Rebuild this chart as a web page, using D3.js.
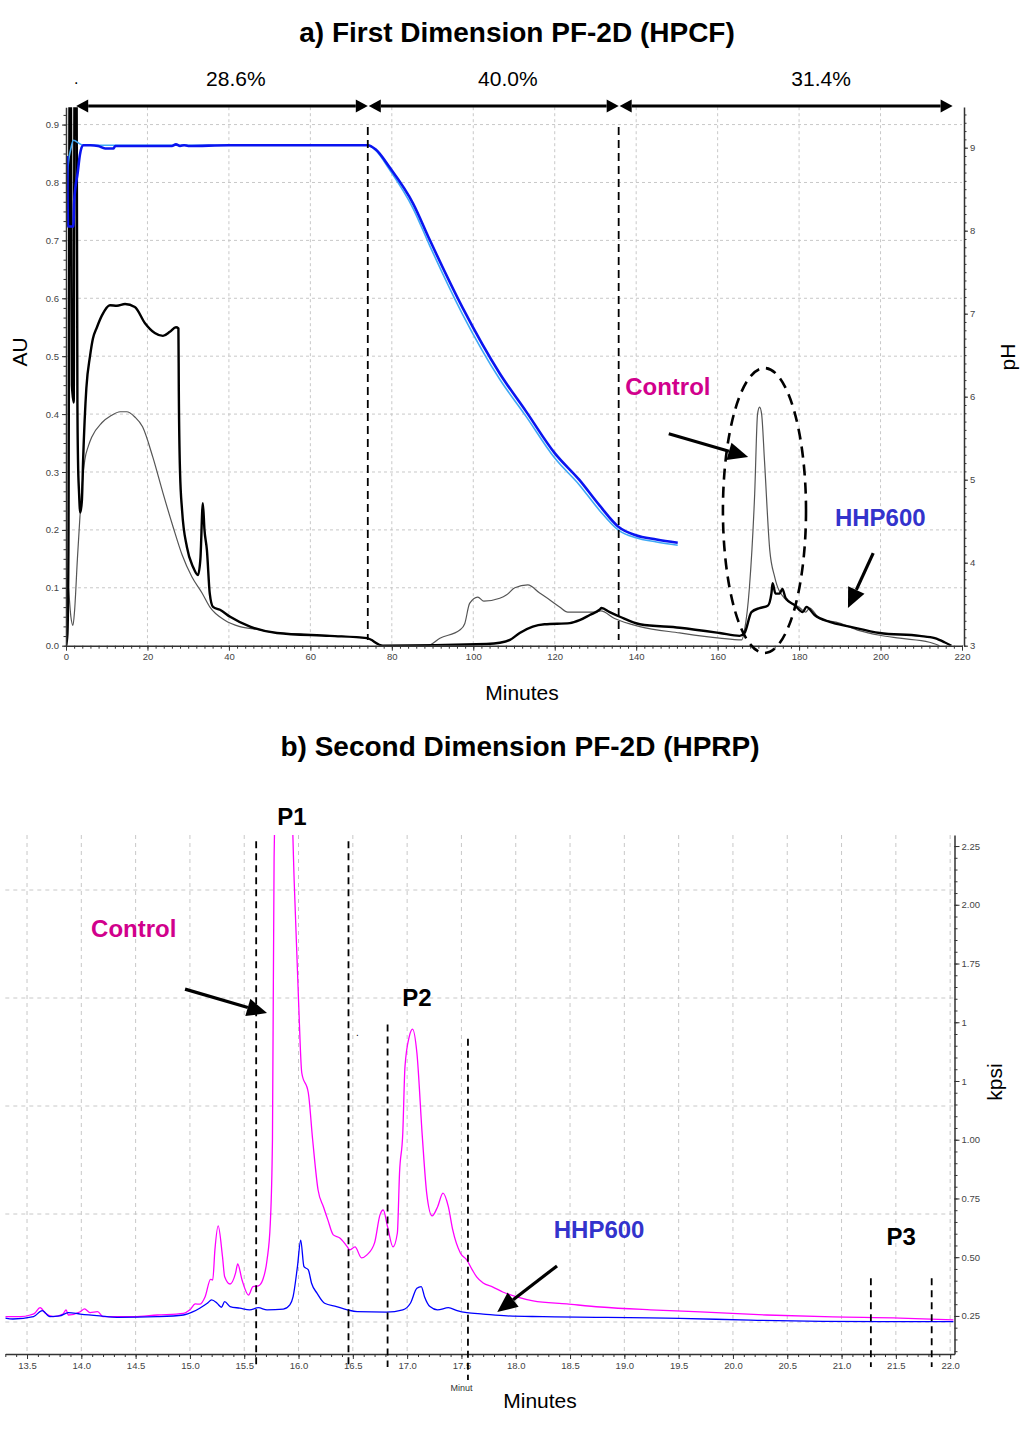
<!DOCTYPE html>
<html><head><meta charset="utf-8">
<script src="https://cdn.jsdelivr.net/npm/d3@7"></script>
<style>
body{margin:0;background:#fff}
svg{display:block}
text{font-family:"Liberation Sans",Arial,sans-serif}
</style>
</head><body>
<svg id="chart" width="1024" height="1429"></svg>
<script>
// ---------- panel a : first dimension (minutes, AU / pH)
const hhpA = [[0,0],[0.35,0.02],[0.6,0.17],[0.9,0.98],[1.2,0.98],[1.45,0.45],[1.9,0.42],[2.1,0.98],[2.6,0.98],[2.8,0.42],[2.95,0.32],[3.2,0.265],[3.5,0.23],[3.9,0.25],[4.2,0.32],[5.0,0.445],[5.9,0.5],[6.6,0.53],[7.6,0.55],[8.8,0.57],[10.8,0.588],[12.5,0.587],[14.5,0.59],[16.9,0.585],[19.4,0.557],[21.8,0.54],[23.8,0.535],[25.5,0.542],[27.0,0.55],[27.6,0.548],[27.7,0.44],[28.0,0.30],[28.5,0.234],[29.7,0.17],[31.2,0.136],[32.4,0.122],[33.0,0.15],[33.6,0.246],[34.0,0.2],[34.6,0.165],[35.3,0.09],[36.1,0.067],[37.8,0.062],[40.3,0.05],[45.2,0.033],[51.8,0.022],[64.8,0.017],[73.9,0.013],[77.8,0.0],[103.3,0.003],[106.5,0.005],[109,0.01],[111.4,0.022],[114.6,0.033],[117.5,0.037],[123.7,0.039],[126.1,0.044],[128.6,0.053],[131,0.062],[131.5,0.065],[133.5,0.058],[136,0.05],[140.9,0.037],[150.7,0.031],[160.5,0.022],[165.4,0.017],[166.6,0.022],[168.3,0.058],[170.3,0.065],[172.3,0.069],[173.2,0.09],[173.5,0.108],[174.2,0.09],[175.2,0.09],[175.9,0.098],[176.7,0.082],[178.9,0.07],[180.9,0.058],[181.8,0.067],[183.8,0.053],[187.5,0.041],[192.4,0.033],[199.8,0.022],[209.6,0.017],[213.3,0.013],[215.7,0.006],[217.4,0]];
const controlA = [[0,0.13],[0.6,0.1],[1.2,0.05],[1.7,0.035],[2.1,0.06],[2.8,0.15],[3.4,0.22],[4.0,0.28],[4.6,0.32],[5.5,0.345],[6.3,0.36],[8.8,0.385],[11,0.397],[13.3,0.404],[14.9,0.404],[16.9,0.395],[18.8,0.378],[21.3,0.326],[23.8,0.264],[26.3,0.205],[28.5,0.157],[30.9,0.119],[33.4,0.091],[35.3,0.067],[39,0.044],[42.7,0.033],[47,0.028],[51.8,0.022],[64.8,0.017],[73.9,0.013],[77.8,0.0],[88.8,0.0],[91.8,0.013],[96.7,0.027],[97.9,0.038],[99.1,0.073],[101.1,0.084],[102.6,0.077],[106.5,0.082],[108.2,0.088],[110.2,0.1],[113.4,0.105],[116.3,0.091],[118.8,0.079],[121.2,0.067],[123.2,0.058],[130,0.058],[131.3,0.06],[134.7,0.047],[140.9,0.033],[150.7,0.022],[160.5,0.013],[165.9,0.01],[166.6,0.027],[167.8,0.1],[169.1,0.263],[169.8,0.40],[170.3,0.412],[170.8,0.40],[171.5,0.32],[172.8,0.165],[174,0.119],[176.4,0.082],[180.1,0.066],[181.6,0.058],[182.6,0.065],[185,0.047],[189.9,0.039],[194.8,0.026],[199.8,0.018],[204.7,0.013],[212,0.006],[214.5,0.0]];
const phDark = [[0.3,8.9],[0.5,8.05],[1.8,8.05],[2.0,8.35],[2.9,8.71],[3.4,8.91],[4.2,9.03],[6,9.03],[7.9,9.02],[9.6,8.99],[11.6,8.99],[12.1,9.02],[20,9.02],[26,9.02],[27,9.04],[28,9.02],[29,9.03],[30,9.02],[40,9.03],[55,9.03],[74.1,9.03],[76,8.98],[79.5,8.76],[85.2,8.33],[89.3,7.89],[97.4,7.07],[106.5,6.28],[113,5.82],[120,5.32],[126,5.0],[131,4.69],[135.7,4.43],[139.9,4.33],[145,4.28],[150.2,4.24]];
const phLight = [[0.2,8.3],[0.5,8.77],[1.2,8.99],[1.8,9.09],[3.6,9.04],[4.2,9.03],[74.1,9.03],[76,8.97],[79.5,8.73],[85.2,8.27],[89.3,7.82],[97.4,6.99],[106.5,6.21],[113,5.76],[120,5.26],[126,4.94],[131,4.63],[135.7,4.39],[139.9,4.3],[145,4.25],[150.2,4.21]];
const fractionBounds = [2.5, 74.1, 135.7, 217.7];
const fractionLabels = ["28.6%", "40.0%", "31.4%"];
const fractionLabelAt = [41.7, 108.5, 185.4];
const cutLinesA = [74.1, 135.7];
const minTicksA = [0, 20, 40, 60, 80, 100, 120, 140, 160, 180, 200, 220];
const auTicks = [0, 0.1, 0.2, 0.3, 0.4, 0.5, 0.6, 0.7, 0.8, 0.9];
const phTicks = [3, 4, 5, 6, 7, 8, 9];

// ---------- panel b : second dimension (minutes, kpsi)
const controlB = [[13.30,0.247],[13.44,0.247],[13.53,0.254],[13.57,0.261],[13.62,0.285],[13.67,0.261],[13.74,0.247],[13.83,0.258],[13.86,0.276],[13.88,0.254],[13.99,0.268],[14.03,0.28],[14.08,0.264],[14.15,0.268],[14.2,0.247],[14.48,0.247],[14.70,0.254],[14.94,0.261],[15.0,0.276],[15.05,0.301],[15.09,0.3],[15.14,0.332],[15.19,0.406],[15.21,0.403],[15.23,0.531],[15.26,0.633],[15.30,0.502],[15.32,0.417],[15.37,0.386],[15.42,0.432],[15.44,0.471],[15.48,0.403],[15.54,0.339],[15.58,0.375],[15.63,0.378],[15.67,0.403],[15.71,0.488],[15.74,0.644],[15.76,1.0],[15.775,2.2],[15.8,2.6],[15.87,2.8],[15.93,2.55],[15.96,2.1],[16.0,1.594],[16.03,1.284],[16.09,1.2],[16.13,1.0],[16.18,0.786],[16.23,0.714],[16.27,0.659],[16.32,0.595],[16.38,0.582],[16.45,0.544],[16.47,0.531],[16.52,0.544],[16.58,0.497],[16.63,0.51],[16.70,0.561],[16.75,0.68],[16.78,0.701],[16.82,0.629],[16.87,0.544],[16.91,0.603],[16.93,0.859],[16.96,1.029],[16.98,1.31],[17.02,1.44],[17.05,1.471],[17.09,1.369],[17.14,1.012],[17.18,0.773],[17.23,0.676],[17.28,0.714],[17.33,0.773],[17.38,0.714],[17.42,0.616],[17.49,0.518],[17.55,0.488],[17.60,0.446],[17.64,0.416],[17.70,0.39],[17.79,0.373],[17.88,0.352],[18.01,0.331],[18.16,0.314],[18.47,0.301],[18.78,0.288],[19.24,0.276],[19.70,0.267],[20.31,0.254],[20.92,0.246],[21.54,0.241],[22.03,0.233]];
const hhpB = [[13.30,0.241],[13.37,0.237],[13.56,0.247],[13.64,0.273],[13.71,0.247],[13.80,0.25],[13.88,0.264],[13.99,0.258],[14.17,0.25],[14.33,0.244],[14.70,0.247],[14.94,0.254],[15.03,0.268],[15.09,0.283],[15.16,0.304],[15.20,0.318],[15.25,0.304],[15.29,0.287],[15.32,0.311],[15.37,0.29],[15.46,0.283],[15.55,0.276],[15.63,0.285],[15.71,0.276],[15.86,0.279],[15.92,0.297],[15.95,0.332],[15.99,0.46],[16.02,0.573],[16.05,0.46],[16.09,0.446],[16.12,0.389],[16.17,0.347],[16.24,0.304],[16.35,0.29],[16.45,0.276],[16.54,0.268],[16.81,0.266],[16.96,0.276],[17.03,0.304],[17.09,0.368],[17.13,0.375],[17.16,0.332],[17.21,0.29],[17.28,0.276],[17.38,0.285],[17.46,0.273],[17.55,0.264],[17.70,0.258],[17.92,0.25],[18.25,0.247],[19.51,0.24],[20.16,0.232],[21.38,0.226],[22.03,0.226]];
const cutLinesB = [[15.61,2.27],[16.46,2.27],[16.82,1.49],[17.56,1.43],[21.27,0.41],[21.83,0.41]];
const minTicksB = [13.5,14.0,14.5,15.0,15.5,16.0,16.5,17.0,17.5,18.0,18.5,19.0,19.5,20.0,20.5,21.0,21.5,22.0];
const kpsiTicks = [0.25,0.5,0.75,1.0,1.25,1.5,1.75,2.0,2.25];
const kpsiLabels = ["0.25","0.50","0.75","1.00","1","1","1.75","2.00","2.25"];
const gridLevelsB = [0, 1, 2, 3, 4];

const svg = d3.select("#chart");
const tickFont = "'Liberation Sans Narrow','Liberation Sans',Arial,sans-serif";
const magenta = "#d1008c", blueTxt = "#3333cc";

function styleAxis(g){
  g.select(".domain").attr("stroke","#333").attr("stroke-width",1.5);
  g.selectAll(".tick line").attr("stroke","#333");
  g.selectAll(".tick text").attr("fill","#444").style("font-size","9.5px").style("font-family",tickFont);
}
function minor(g){ g.select(".domain").remove(); g.selectAll(".tick line").attr("stroke","#333"); }

function arrow(g,x1,y1,x2,y2,len,half,w,both){
  const a = Math.atan2(y2-y1,x2-x1), c = Math.cos(a), s = Math.sin(a);
  const sx = both ? x1+len*c : x1, sy = both ? y1+len*s : y1;
  g.append("line").attr("x1",sx).attr("y1",sy).attr("x2",x2-len*c).attr("y2",y2-len*s)
    .attr("stroke","#000").attr("stroke-width",w);
  const head = (tx,ty,dc,ds)=>{
    const bx=tx-len*dc, by=ty-len*ds;
    g.append("polygon").attr("points",[[tx,ty],[bx+half*ds,by-half*dc],[bx-half*ds,by+half*dc]].join(" ")).attr("fill","#000");
  };
  head(x2,y2,c,s);
  if(both) head(x1,y1,-c,-s);
}

// ================= PANEL A =================
const xA = d3.scaleLinear().domain([0,220]).range([66,962]);
const yA = d3.scaleLinear().domain([0,0.93]).range([645.7,107.2]);
const yPH = d3.scaleLinear().domain([3,9.49]).range([645.7,107]);
const gA = svg.append("g");

svg.append("text").attr("x",517).attr("y",42).attr("text-anchor","middle")
  .style("font-size","28px").style("font-weight","bold").text("a) First Dimension PF-2D (HPCF)");

// grid
gA.append("g").selectAll("line").data(minTicksA.slice(1,-1)).join("line")
  .attr("x1",d=>xA(d)).attr("x2",d=>xA(d)).attr("y1",yA(0.93)).attr("y2",yA(0))
  .attr("stroke","#c8c8c8").attr("stroke-dasharray","3,3");
gA.append("g").selectAll("line").data(auTicks.slice(1)).join("line")
  .attr("x1",xA(0)).attr("x2",xA(220)).attr("y1",d=>yA(d)).attr("y2",d=>yA(d))
  .attr("stroke","#c8c8c8").attr("stroke-dasharray","3,3");

svg.append("clipPath").attr("id","clipA").append("rect")
  .attr("x",xA(0)).attr("y",yA(0.93)).attr("width",xA(220)-xA(0)).attr("height",yA(0)-yA(0.93));
const plotA = gA.append("g").attr("clip-path","url(#clipA)");

const lineAU = d3.line().x(d=>xA(d[0])).y(d=>yA(d[1])).curve(d3.curveMonotoneX);
const linePH = d3.line().x(d=>xA(d[0])).y(d=>yPH(d[1])).curve(d3.curveMonotoneX);

plotA.append("path").attr("d",lineAU(controlA)).attr("fill","none").attr("stroke","#555").attr("stroke-width",1.2);
plotA.append("path").attr("d",lineAU(hhpA)).attr("fill","none").attr("stroke","#000").attr("stroke-width",2.4).attr("stroke-linejoin","round");
plotA.append("path").attr("d",linePH(phLight)).attr("fill","none").attr("stroke","#3fa9f5").attr("stroke-width",1.6);
plotA.append("path").attr("d",linePH(phDark)).attr("fill","none").attr("stroke","#0a14f0").attr("stroke-width",2.6);

// fraction cut lines
gA.append("g").selectAll("line").data(cutLinesA).join("line")
  .attr("x1",d=>xA(d)).attr("x2",d=>xA(d)).attr("y1",yA(0.896)).attr("y2",yA(0.01))
  .attr("stroke","#000").attr("stroke-width",1.8).attr("stroke-dasharray","8,5");

// fraction arrows
const fracG = gA.append("g");
fractionLabels.forEach((lab,i)=>{
  const a = xA(fractionBounds[i]) + (i>0?1:0), b = xA(fractionBounds[i+1]);
  arrow(fracG,a,106,b,106,12,6.5,3,true);
  fracG.append("text").attr("x",xA(fractionLabelAt[i])).attr("y",86).attr("text-anchor","middle")
    .style("font-size","21px").text(lab);
});
gA.append("text").attr("x",xA(2.5)).attr("y",84).attr("text-anchor","middle").style("font-size","16px").text(".");

// axes
gA.append("g").attr("transform",`translate(0,${yA(0)})`)
  .call(d3.axisBottom(xA).tickValues(d3.range(0,221,2)).tickSize(3).tickFormat("")).call(minor);
gA.append("g").attr("transform",`translate(0,${yA(0)})`)
  .call(d3.axisBottom(xA).tickValues(minTicksA).tickSize(5).tickSizeOuter(0).tickPadding(3)).call(styleAxis);
gA.append("g").attr("transform",`translate(${xA(0)},0)`)
  .call(d3.axisLeft(yA).tickValues(d3.range(0,0.93,0.1/6)).tickSize(2.5).tickFormat("")).call(minor);
gA.append("g").attr("transform",`translate(${xA(0)},0)`)
  .call(d3.axisLeft(yA).tickValues(auTicks).tickFormat(d3.format(".1f")).tickSize(4).tickSizeOuter(0).tickPadding(3)).call(styleAxis);
const xR = xA(220)+2;
gA.append("g").attr("transform",`translate(${xR},0)`)
  .call(d3.axisRight(yPH).tickValues(d3.range(3,9.49,0.1)).tickSize(2.5).tickFormat("")).call(minor);
gA.append("g").attr("transform",`translate(${xR},0)`)
  .call(d3.axisRight(yPH).tickValues(phTicks).tickFormat(d3.format("d")).tickSize(4).tickSizeOuter(0).tickPadding(2)).call(styleAxis);

svg.append("text").attr("transform","translate(27,352) rotate(-90)").attr("text-anchor","middle").style("font-size","21px").text("AU");
svg.append("text").attr("transform","translate(1015,357) rotate(-90)").attr("text-anchor","middle").style("font-size","21px").text("pH");
svg.append("text").attr("x",522).attr("y",700).attr("text-anchor","middle").style("font-size","21px").text("Minutes");

// annotations
const annA = gA.append("g");
annA.append("ellipse").attr("cx",xA(171.5)).attr("cy",yA(0.2335))
  .attr("rx",xA(10.2)-xA(0)).attr("ry",yA(0)-yA(0.246))
  .attr("fill","none").attr("stroke","#000").attr("stroke-width",2.6).attr("stroke-dasharray","11,7");
annA.append("text").attr("x",xA(137.3)).attr("y",yA(0.433)).style("font-size","24px").style("font-weight","bold").attr("fill",magenta).text("Control");
annA.append("text").attr("x",xA(188.8)).attr("y",yA(0.207)).style("font-size","24px").style("font-weight","bold").attr("fill",blueTxt).text("HHP600");
arrow(annA,xA(148.0),yA(0.366),xA(167.5),yA(0.326),20,9,3.2,false);
arrow(annA,xA(198.2),yA(0.160),xA(192.0),yA(0.065),20,9,3.2,false);

// ================= PANEL B =================
const bx = d3.scaleLinear().domain([13.3,22.04]).range([5.3,954.5]);
const by = d3.scaleLinear().domain([0.088,2.297]).range([1354,835]);
const byGrid = d3.scaleLinear().domain([0,4]).range([1322,890]);
const gB = svg.append("g");

svg.append("text").attr("x",520).attr("y",756).attr("text-anchor","middle")
  .style("font-size","28px").style("font-weight","bold").text("b) Second Dimension PF-2D (HPRP)");

gB.append("g").selectAll("line").data(minTicksB).join("line")
  .attr("x1",d=>bx(d)).attr("x2",d=>bx(d)).attr("y1",by(2.297)).attr("y2",by(0.088))
  .attr("stroke","#c8c8c8").attr("stroke-dasharray","4,4");
gB.append("g").selectAll("line").data(gridLevelsB).join("line")
  .attr("x1",bx(13.3)).attr("x2",bx(22.04)).attr("y1",d=>byGrid(d)).attr("y2",d=>byGrid(d))
  .attr("stroke","#c8c8c8").attr("stroke-dasharray","4,4");

svg.append("clipPath").attr("id","clipB").append("rect")
  .attr("x",bx(13.3)).attr("y",by(2.297)).attr("width",bx(22.04)-bx(13.3)).attr("height",by(0.088)-by(2.297));
const plotB = gB.append("g").attr("clip-path","url(#clipB)");
const lineB = d3.line().x(d=>bx(d[0])).y(d=>by(d[1])).curve(d3.curveMonotoneX);
plotB.append("path").attr("d",lineB(controlB)).attr("fill","none").attr("stroke","#ff00ff").attr("stroke-width",1.3);
plotB.append("path").attr("d",lineB(hhpB)).attr("fill","none").attr("stroke","#0000ff").attr("stroke-width",1.3);

// axes
gB.append("g").attr("transform",`translate(0,${by(0.088)})`)
  .call(d3.axisBottom(bx).tickValues(d3.range(13.3,22.041,0.1)).tickSize(3).tickFormat("")).call(minor);
gB.append("g").attr("transform",`translate(0,${by(0.088)})`)
  .call(d3.axisBottom(bx).tickValues(minTicksB).tickFormat(d3.format(".1f")).tickSize(5).tickSizeOuter(0).tickPadding(3)).call(styleAxis);
gB.append("g").attr("transform",`translate(${bx(22.04)},0)`)
  .call(d3.axisRight(by).tickValues(d3.range(0.1,2.297,0.05)).tickSize(3).tickFormat("")).call(minor);
gB.append("g").attr("transform",`translate(${bx(22.04)},0)`)
  .call(d3.axisRight(by).tickValues(kpsiTicks).tickFormat((d,i)=>kpsiLabels[i]).tickSize(5).tickSizeOuter(0).tickPadding(2)).call(styleAxis);

// cut lines
gB.append("g").selectAll("line").data(cutLinesB).join("line")
  .attr("x1",d=>bx(d[0])).attr("x2",d=>bx(d[0])).attr("y1",d=>by(d[1]))
  .attr("y2",(d,i)=>by(0.088)+(i===3?26:13))
  .attr("stroke","#000").attr("stroke-width",1.8).attr("stroke-dasharray","7,5");

svg.append("text").attr("x",bx(17.5)).attr("y",1391).attr("text-anchor","middle")
  .style("font-size","9px").style("font-family",tickFont).attr("fill","#333").text("Minut");
svg.append("text").attr("x",540).attr("y",1408).attr("text-anchor","middle").style("font-size","21px").text("Minutes");
svg.append("text").attr("transform","translate(1002,1082) rotate(-90)").attr("text-anchor","middle").style("font-size","21px").text("kpsi");

const annB = gB.append("g");
annB.append("text").attr("x",bx(15.94)).attr("y",825).attr("text-anchor","middle").style("font-size","24px").style("font-weight","bold").text("P1");
annB.append("text").attr("x",bx(17.09)).attr("y",by(1.569)).attr("text-anchor","middle").style("font-size","24px").style("font-weight","bold").text("P2");
annB.append("text").attr("x",bx(21.55)).attr("y",by(0.552)).attr("text-anchor","middle").style("font-size","24px").style("font-weight","bold").text("P3");
annB.append("text").attr("x",bx(14.09)).attr("y",by(1.863)).style("font-size","24px").style("font-weight","bold").attr("fill",magenta).text("Control");
annB.append("text").attr("x",bx(18.35)).attr("y",by(0.582)).style("font-size","24px").style("font-weight","bold").attr("fill",blueTxt).text("HHP600");
annB.append("text").attr("x",bx(16.53)).attr("y",by(1.44)).style("font-size","10px").text(".");
arrow(annB,bx(14.955),by(1.641),bx(15.71),by(1.539),20,9,3.2,false);
arrow(annB,bx(18.38),by(0.463),bx(17.83),by(0.267),20,9,3.2,false);
</script>
</body></html>
